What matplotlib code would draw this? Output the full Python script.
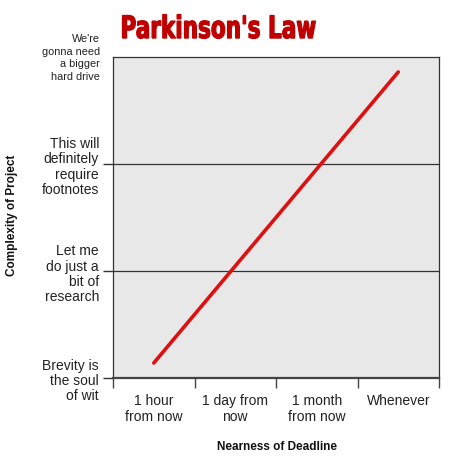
import matplotlib.pyplot as plt
from matplotlib.textpath import TextPath
from matplotlib.patches import PathPatch
from matplotlib.font_manager import FontProperties
from matplotlib.transforms import Affine2D, IdentityTransform

# data
deadline_labels = ["1 hour\nfrom now", "1 day from\nnow", "1 month\nfrom now", "Whenever"]
complexity_labels = ["Brevity is\nthe soul\nof wit", "Let me\ndo just a\nbit of\nresearch",
                     "This will\ndefinitely\nrequire\nfootnotes"]
top_label = "We're\ngonna need\na bigger\nhard drive"
line_x = [0.5, 3.5]
line_y = [0.14, 2.86]

plt.rcParams['font.family'] = ['Liberation Sans', 'DejaVu Sans']

fig = plt.figure(figsize=(4.61, 4.60), dpi=100)
ax = fig.add_axes([113 / 461, 1 - 379 / 460, 326 / 461, 321 / 460])
ax.set_facecolor('#e8e8e8')

ax.plot(line_x, line_y, color='#dd1111', lw=2.6, solid_capstyle='round', zorder=3)

ax.set_xlim(0, 4)
ax.set_ylim(0, 3)

# x ticks at category borders, labels in the middle
ax.set_xticks(range(5))
ax.set_xticklabels([])
ax.set_xticks([i + 0.5 for i in range(4)], minor=True)
ax.set_xticklabels(deadline_labels, minor=True, fontsize=10, linespacing=1.15, color='#222222')
ax.tick_params(axis='x', which='major', length=7, width=1, color='#444444', direction='out')
ax.tick_params(axis='x', which='minor', length=0, pad=11)

ax.set_yticks([0, 1, 2])
ax.set_yticklabels(complexity_labels, fontsize=10, linespacing=1.12, color='#222222')
ax.tick_params(axis='y', length=7, width=1, color='#333333', pad=3)
ax.grid(axis='y', color='#333333', lw=0.9)
ax.set_axisbelow(True)

ax.annotate(top_label, xy=(0, 3), xycoords=('axes fraction', 'data'),
            xytext=(-13, 0), textcoords='offset pixels', ha='right', va='center',
            fontsize=7.8, linespacing=1.3, color='#222222')

for s in ['left', 'top', 'right']:
    ax.spines[s].set_color('#333333')
    ax.spines[s].set_linewidth(0.9)
ax.spines['bottom'].set_color('#444444')
ax.spines['bottom'].set_linewidth(1.6)

# title: heavy condensed look, squeezed into its box in pixels
tp = TextPath((0, 0), "Parkinson's Law", size=30,
              prop=FontProperties(family='DejaVu Sans', weight='bold'))
ext = tp.get_extents()
x0, x1, top, bottom = 122.5, 315.5, 15.5, 39.5
H = 460
sx = (x1 - x0) / ext.width
sy = (bottom - top) / ext.height
tr = Affine2D().translate(-ext.x0, -ext.y0).scale(sx, sy).translate(x0, H - bottom)
fig.add_artist(PathPatch(tr.transform_path(tp), transform=IdentityTransform(),
                         facecolor='#c00000', edgecolor='#c00000', lw=0.9))

fig.text(12 / 461, 1 - 215 / 460, "Complexity of Project", rotation=90, fontsize=8.5,
         fontweight='bold', ha='center', va='center', color='#111111')
fig.text(277 / 461, 1 - 447 / 460, "Nearness of Deadline", fontsize=8.5,
         fontweight='bold', ha='center', va='center', color='#111111')

fig.savefig('out.png', dpi=100, facecolor='white')
